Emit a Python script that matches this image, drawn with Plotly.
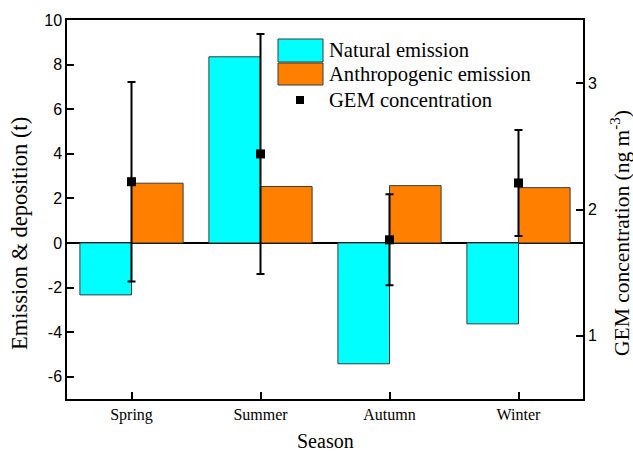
import plotly.graph_objects as go

seasons = ["Spring", "Summer", "Autumn", "Winter"]
natural = [-2.33, 8.35, -5.42, -3.63]
anthropogenic = [2.68, 2.53, 2.57, 2.48]
gem = [2.22, 2.44, 1.76, 2.21]
gem_err = [0.79, 0.95, 0.36, 0.42]

left_ticks = [-6, -4, -2, 0, 2, 4, 6, 8, 10]
left_labels = ["-6", "-4", "-2", "0", "2", "4", "6", "8", "10"]
right_ticks = [1, 2, 3]
right_labels = ["1", "2", "3"]

SERIF = "Liberation Serif, Times New Roman, serif"
SANS = "Liberation Sans, Arial, sans-serif"
CYAN = "#00FFFF"
ORANGE = "#FF8000"
EDGE = "#3a3a3a"

fig = go.Figure()
fig.add_trace(go.Bar(x=seasons, y=natural, name="Natural emission",
                     marker=dict(color=CYAN, line=dict(color=EDGE, width=1)),
                     yaxis="y", showlegend=False))
fig.add_trace(go.Bar(x=seasons, y=anthropogenic, name="Anthropogenic emission",
                     marker=dict(color=ORANGE, line=dict(color=EDGE, width=1)),
                     yaxis="y", showlegend=False))
fig.add_trace(go.Scatter(x=seasons, y=gem, name="GEM concentration", mode="markers",
                         marker=dict(symbol="square", color="black", size=9),
                         error_y=dict(type="data", array=gem_err, color="black",
                                      thickness=2, width=4),
                         yaxis="y2", showlegend=False))

# custom legend (large swatches as in the reference)
legend_items = [("Natural emission", CYAN), ("Anthropogenic emission", ORANGE)]
x0p, x1p = 278, 323
rows_y = [(39, 62), (63, 85)]
def px2x(px):
    return (px - 67) / 516
def py2y(py):
    return (399 - py) / 379
for (label, col), (ya, yb) in zip(legend_items, rows_y):
    fig.add_shape(type="rect", xref="paper", yref="paper",
                  x0=px2x(x0p), x1=px2x(x1p), y0=py2y(yb), y1=py2y(ya),
                  fillcolor=col, line=dict(color=EDGE, width=1))
    fig.add_annotation(xref="paper", yref="paper", x=px2x(327), y=py2y((ya + yb) / 2),
                       text=label, showarrow=False, xanchor="left", yanchor="middle",
                       font=dict(family=SERIF, size=20.6, color="black"))
fig.add_shape(type="rect", xref="paper", yref="paper",
              x0=px2x(296), x1=px2x(304), y0=py2y(104), y1=py2y(96),
              fillcolor="black", line=dict(color="black", width=0))
fig.add_annotation(xref="paper", yref="paper", x=px2x(327), y=py2y(100),
                   text="GEM concentration", showarrow=False, xanchor="left", yanchor="middle",
                   font=dict(family=SERIF, size=20.6, color="black"))

# axis titles
fig.add_annotation(xref="paper", yref="paper", x=px2x(19), y=py2y(234),
                   text="Emission &amp; deposition (t)", textangle=-90, showarrow=False,
                   xanchor="center", yanchor="middle",
                   font=dict(family=SERIF, size=22.5, color="black"))
fig.add_annotation(xref="paper", yref="paper", x=px2x(620), y=py2y(233),
                   text="GEM concentration (ng m<sup>-3</sup>)", textangle=-90, showarrow=False,
                   xanchor="center", yanchor="middle",
                   font=dict(family=SERIF, size=21.5, color="black"))
fig.add_annotation(xref="paper", yref="paper", x=px2x(325), y=py2y(441),
                   text="Season", showarrow=False, xanchor="center", yanchor="middle",
                   font=dict(family=SERIF, size=20, color="black"))

fig.update_layout(
    width=633, height=455,
    margin=dict(l=67, r=50, t=20, b=56, autoexpand=False),
    paper_bgcolor="white", plot_bgcolor="white",
    barmode="group", bargap=0.2, bargroupgap=0,
    xaxis=dict(range=[-0.5, 3.5], showline=True, linecolor="black", linewidth=1.5,
               mirror=True, ticks="inside", ticklen=7, tickcolor="black", tickwidth=1.5,
               tickfont=dict(family=SERIF, size=16, color="black"), showgrid=False),
    yaxis=dict(range=[-7, 10], tickvals=left_ticks, ticktext=left_labels,
               showline=True, linecolor="black", linewidth=1.5, ticks="inside", ticklen=7,
               tickcolor="black", tickwidth=1.5, showgrid=False,
               zeroline=True, zerolinecolor="black", zerolinewidth=1.5,
               tickfont=dict(family=SANS, size=16, color="black")),
    yaxis2=dict(range=[0.5, 3.5], tickvals=right_ticks, ticktext=right_labels,
                overlaying="y", side="right", showline=True, linecolor="black", linewidth=1.5,
                ticks="inside", ticklen=7, tickcolor="black", tickwidth=1.5,
                showgrid=False, zeroline=False,
                tickfont=dict(family=SANS, size=16, color="black")),
)

fig.write_html("out.html", config={"displayModeBar": False},
               post_script="document.body.style.margin='0px';")
